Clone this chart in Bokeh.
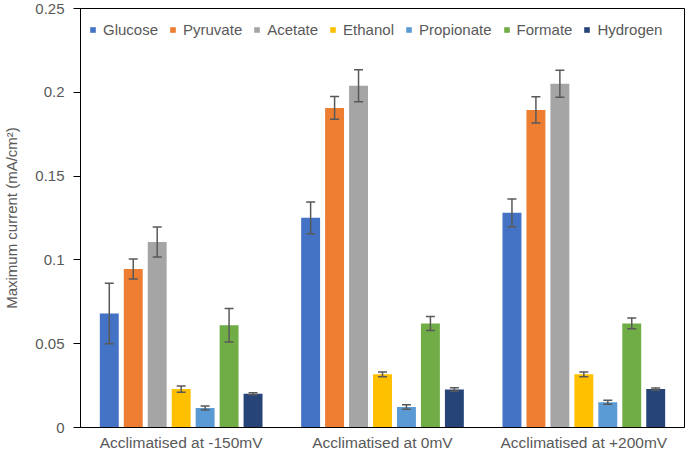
from bokeh.plotting import figure
from bokeh.models import ColumnDataSource, FactorRange, FixedTicker, Legend
from bokeh.transform import dodge
from bokeh.embed import file_html
from bokeh.resources import INLINE

categories = ["Acclimatised at -150mV", "Acclimatised at 0mV", "Acclimatised at +200mV"]
series = ["Glucose", "Pyruvate", "Acetate", "Ethanol", "Propionate", "Formate", "Hydrogen"]
colors = ["#4472C4", "#ED7D31", "#A5A5A5", "#FFC000", "#5B9BD5", "#70AD47", "#264478"]

glucose = [0.068, 0.1251, 0.1281]
pyruvate = [0.0946, 0.1907, 0.1895]
acetate = [0.1107, 0.2039, 0.2051]
ethanol = [0.0229, 0.0317, 0.0317]
propionate = [0.0116, 0.0122, 0.015]
formate = [0.061, 0.0621, 0.0621]
hydrogen = [0.0201, 0.0227, 0.0229]

glucose_err = [0.018, 0.0095, 0.0083]
pyruvate_err = [0.006, 0.0068, 0.0078]
acetate_err = [0.009, 0.0095, 0.0081]
ethanol_err = [0.0018, 0.0014, 0.0014]
propionate_err = [0.0012, 0.0013, 0.0012]
formate_err = [0.010, 0.0042, 0.0032]
hydrogen_err = [0.0006, 0.001, 0.0007]

y_ticks = [0, 0.05, 0.1, 0.15, 0.2, 0.25]
y_tick_labels = ["0", "0.05", "0.1", "0.15", "0.2", "0.25"]

values = [glucose, pyruvate, acetate, ethanol, propionate, formate, hydrogen]
errors = [glucose_err, pyruvate_err, acetate_err, ethanol_err, propionate_err, formate_err, hydrogen_err]

data = {"cat": categories}
for name, v, e in zip(series, values, errors):
    data[name] = v
    data[name + "_lo"] = [a - b for a, b in zip(v, e)]
    data[name + "_hi"] = [a + b for a, b in zip(v, e)]
source = ColumnDataSource(data)

FONT = "Liberation Sans"
TXT = "#595959"

p = figure(x_range=FactorRange(*categories), y_range=(0, 0.25),
           width=685, height=453, output_backend="svg", toolbar_location=None,
           min_border_left=77, min_border_right=1, min_border_top=8, min_border_bottom=24)

step = 0.119
bw = 0.094
items = []
for i, (name, col) in enumerate(zip(series, colors)):
    off = (i - 3) * step
    r = p.vbar(x=dodge("cat", off, range=p.x_range), top=name, width=bw, source=source,
               fill_color=col, line_color=None)
    items.append((name, [r]))
for i, name in enumerate(series):
    off = (i - 3) * step
    xs = dodge("cat", off, range=p.x_range)
    p.segment(x0=xs, y0=name + "_lo", x1=xs, y1=name + "_hi", source=source,
              line_color="#595959", line_width=1.5)
    p.scatter(x=xs, y=name + "_hi", source=source, marker="dash", size=9,
              line_color="#595959", line_width=1.5)
    p.scatter(x=xs, y=name + "_lo", source=source, marker="dash", size=9,
              line_color="#595959", line_width=1.5)

legend = Legend(items=items, orientation="horizontal", location=(9, 389),
                glyph_width=7, glyph_height=7, label_standoff=7, spacing=11,
                padding=5, margin=0, background_fill_alpha=0, border_line_color=None,
                label_text_font=FONT, label_text_font_size="15px", label_text_color=TXT,
                label_height=17)
p.add_layout(legend, "center")

p.xgrid.visible = False
p.ygrid.visible = False
p.outline_line_color = "#000000"
p.outline_line_width = 1

p.yaxis.ticker = FixedTicker(ticks=y_ticks)
p.yaxis.major_label_overrides = {t: l for t, l in zip(y_ticks, y_tick_labels)}
p.yaxis.axis_label = "Maximum current (mA/cm²)"
p.yaxis.axis_label_text_font = FONT
p.yaxis.axis_label_text_font_size = "15px"
p.yaxis.axis_label_text_font_style = "normal"
p.yaxis.axis_label_text_color = TXT
p.yaxis.axis_label_standoff = 12
p.yaxis.major_label_text_font = FONT
p.yaxis.major_label_text_font_size = "15px"
p.yaxis.major_label_text_color = TXT
p.yaxis.major_label_standoff = 9
p.yaxis.major_tick_out = 7
p.yaxis.major_tick_in = 0
p.yaxis.minor_tick_out = 0
p.yaxis.minor_tick_in = 0
p.yaxis.axis_line_color = "#000000"
p.yaxis.major_tick_line_color = "#000000"

p.xaxis.major_label_text_font = FONT
p.xaxis.major_label_text_font_size = "15.5px"
p.xaxis.major_label_text_color = TXT
p.xaxis.major_label_standoff = 6
p.xaxis.major_tick_out = 0
p.xaxis.major_tick_in = 0
p.xaxis.axis_line_color = "#000000"

open("out.html", "w").write(file_html(p, INLINE))
